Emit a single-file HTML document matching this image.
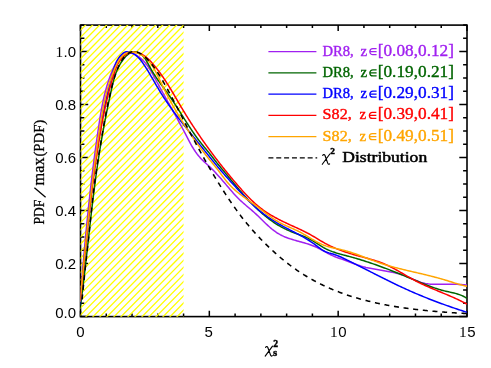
<!DOCTYPE html>
<html><head><meta charset="utf-8"><title>chart</title>
<style>html,body{margin:0;padding:0;background:#fff;}svg{display:block;will-change:transform;}text{font-family:"Liberation Sans",sans-serif;}</style></head>
<body>
<svg width="491" height="368" viewBox="0 0 491 368">
<rect x="0" y="0" width="491" height="368" fill="#fff"/>
<defs><clipPath id="plot"><rect x="80.50" y="24.10" width="386.50" height="293.50"/></clipPath>
<clipPath id="hatch"><rect x="80.60" y="24.95" width="102.97" height="291.80"/></clipPath></defs>
<rect x="80.50" y="25.10" width="386.50" height="291.50" fill="none" stroke="#000" stroke-width="1.6"/>
<path d="M80.50 316.60 v-5.90 M80.50 25.10 v5.90 M106.27 316.60 v-3.00 M106.27 25.10 v3.00 M132.03 316.60 v-3.00 M132.03 25.10 v3.00 M157.80 316.60 v-3.00 M157.80 25.10 v3.00 M183.57 316.60 v-3.00 M183.57 25.10 v3.00 M209.33 316.60 v-5.90 M209.33 25.10 v5.90 M235.10 316.60 v-3.00 M235.10 25.10 v3.00 M260.87 316.60 v-3.00 M260.87 25.10 v3.00 M286.63 316.60 v-3.00 M286.63 25.10 v3.00 M312.40 316.60 v-3.00 M312.40 25.10 v3.00 M338.17 316.60 v-5.90 M338.17 25.10 v5.90 M363.93 316.60 v-3.00 M363.93 25.10 v3.00 M389.70 316.60 v-3.00 M389.70 25.10 v3.00 M415.47 316.60 v-3.00 M415.47 25.10 v3.00 M441.23 316.60 v-3.00 M441.23 25.10 v3.00 M467.00 316.60 v-5.90 M467.00 25.10 v5.90 M80.50 316.60 h7.70 M467.00 316.60 h-7.70 M80.50 303.35 h3.90 M467.00 303.35 h-3.90 M80.50 290.10 h3.90 M467.00 290.10 h-3.90 M80.50 276.85 h3.90 M467.00 276.85 h-3.90 M80.50 263.60 h7.70 M467.00 263.60 h-7.70 M80.50 250.35 h3.90 M467.00 250.35 h-3.90 M80.50 237.10 h3.90 M467.00 237.10 h-3.90 M80.50 223.85 h3.90 M467.00 223.85 h-3.90 M80.50 210.60 h7.70 M467.00 210.60 h-7.70 M80.50 197.35 h3.90 M467.00 197.35 h-3.90 M80.50 184.10 h3.90 M467.00 184.10 h-3.90 M80.50 170.85 h3.90 M467.00 170.85 h-3.90 M80.50 157.60 h7.70 M467.00 157.60 h-7.70 M80.50 144.35 h3.90 M467.00 144.35 h-3.90 M80.50 131.10 h3.90 M467.00 131.10 h-3.90 M80.50 117.85 h3.90 M467.00 117.85 h-3.90 M80.50 104.60 h7.70 M467.00 104.60 h-7.70 M80.50 91.35 h3.90 M467.00 91.35 h-3.90 M80.50 78.10 h3.90 M467.00 78.10 h-3.90 M80.50 64.85 h3.90 M467.00 64.85 h-3.90 M80.50 51.60 h7.70 M467.00 51.60 h-7.70 M80.50 38.35 h3.90 M467.00 38.35 h-3.90 M80.50 25.10 h3.90 M467.00 25.10 h-3.90" stroke="#000" stroke-width="1.5" fill="none"/>
<path clip-path="url(#hatch)" d="M-216.19 317.60 L72.57 24.10 M-209.18 317.60 L79.58 24.10 M-202.18 317.60 L86.58 24.10 M-195.17 317.60 L93.59 24.10 M-188.16 317.60 L100.60 24.10 M-181.16 317.60 L107.60 24.10 M-174.15 317.60 L114.61 24.10 M-167.14 317.60 L121.62 24.10 M-160.13 317.60 L128.63 24.10 M-153.13 317.60 L135.63 24.10 M-146.12 317.60 L142.64 24.10 M-139.11 317.60 L149.65 24.10 M-132.11 317.60 L156.65 24.10 M-125.10 317.60 L163.66 24.10 M-118.09 317.60 L170.67 24.10 M-111.09 317.60 L177.67 24.10 M-104.08 317.60 L184.68 24.10 M-97.07 317.60 L191.69 24.10 M-90.06 317.60 L198.70 24.10 M-83.06 317.60 L205.70 24.10 M-76.05 317.60 L212.71 24.10 M-69.04 317.60 L219.72 24.10 M-62.04 317.60 L226.72 24.10 M-55.03 317.60 L233.73 24.10 M-48.02 317.60 L240.74 24.10 M-41.02 317.60 L247.74 24.10 M-34.01 317.60 L254.75 24.10 M-27.00 317.60 L261.76 24.10 M-19.99 317.60 L268.77 24.10 M-12.99 317.60 L275.77 24.10 M-5.98 317.60 L282.78 24.10 M1.03 317.60 L289.79 24.10 M8.03 317.60 L296.79 24.10 M15.04 317.60 L303.80 24.10 M22.05 317.60 L310.81 24.10 M29.05 317.60 L317.81 24.10 M36.06 317.60 L324.82 24.10 M43.07 317.60 L331.83 24.10 M50.08 317.60 L338.84 24.10 M57.08 317.60 L345.84 24.10 M64.09 317.60 L352.85 24.10 M71.10 317.60 L359.86 24.10 M78.10 317.60 L366.86 24.10 M85.11 317.60 L373.87 24.10 M92.12 317.60 L380.88 24.10 M99.12 317.60 L387.88 24.10 M106.13 317.60 L394.89 24.10 M113.14 317.60 L401.90 24.10 M120.15 317.60 L408.91 24.10 M127.15 317.60 L415.91 24.10 M134.16 317.60 L422.92 24.10 M141.17 317.60 L429.93 24.10 M148.17 317.60 L436.93 24.10 M155.18 317.60 L443.94 24.10 M162.19 317.60 L450.95 24.10 M169.19 317.60 L457.95 24.10 M176.20 317.60 L464.96 24.10 M183.21 317.60 L471.97 24.10" stroke="#ffff00" stroke-width="1.3" fill="none"/>
<g clip-path="url(#plot)" fill="none" stroke-width="1.5" stroke-linejoin="round">
<path d="M80.21 301.93 L80.31 300.54 L80.41 299.16 L80.51 297.77 L80.62 296.39 L80.72 295.01 L80.82 293.62 L80.93 292.23 L81.03 290.85 L81.14 289.46 L81.25 288.07 L81.35 286.69 L81.46 285.30 L81.57 283.91 L81.68 282.52 L81.78 281.13 L81.89 279.75 L82.00 278.36 L82.12 276.97 L82.23 275.58 L82.34 274.19 L82.45 272.80 L82.56 271.41 L82.68 270.01 L82.79 268.62 L82.91 267.23 L83.02 265.84 L83.14 264.45 L83.25 263.06 L83.37 261.66 L83.49 260.27 L83.61 258.88 L83.73 257.48 L83.85 256.09 L83.97 254.70 L84.09 253.31 L84.21 251.91 L84.33 250.52 L84.46 249.12 L84.58 247.73 L84.70 246.34 L84.83 244.94 L84.96 243.55 L85.08 242.15 L85.21 240.76 L85.34 239.36 L85.47 237.97 L85.60 236.57 L85.73 235.18 L85.86 233.78 L85.99 232.39 L86.12 230.99 L86.26 229.60 L86.39 228.21 L86.52 226.81 L86.66 225.42 L86.80 224.02 L86.93 222.63 L87.07 221.23 L87.21 219.84 L87.35 218.44 L87.49 217.05 L87.63 215.65 L87.77 214.26 L87.92 212.86 L88.06 211.47 L88.21 210.07 L88.35 208.68 L88.50 207.29 L88.64 205.89 L88.79 204.50 L88.94 203.10 L89.09 201.71 L89.24 200.32 L89.39 198.93 L89.55 197.53 L89.70 196.14 L89.85 194.75 L90.01 193.35 L90.17 191.96 L90.32 190.57 L90.48 189.18 L90.64 187.79 L90.80 186.40 L90.96 185.00 L91.12 183.61 L91.28 182.22 L91.45 180.83 L91.61 179.44 L91.78 178.05 L91.94 176.66 L92.11 175.28 L92.28 173.89 L92.45 172.50 L92.62 171.11 L92.79 169.72 L92.97 168.33 L93.14 166.95 L93.31 165.56 L93.49 164.17 L93.67 162.79 L93.84 161.40 L94.02 160.02 L94.20 158.63 L94.38 157.25 L94.57 155.87 L94.75 154.48 L94.93 153.10 L95.12 151.72 L95.30 150.33 L95.49 148.95 L95.68 147.57 L95.87 146.19 L96.06 144.81 L96.25 143.43 L96.45 142.05 L96.64 140.67 L96.84 139.30 L97.03 137.92 L97.23 136.54 L97.43 135.17 L97.63 133.79 L97.83 132.41 L98.03 131.04 L98.24 129.67 L98.44 128.29 L98.65 126.92 L98.85 125.55 L99.06 124.17 L99.27 122.80 L99.48 121.43 L99.70 120.06 L99.91 118.69 L100.13 117.33 L100.36 115.96 L100.58 114.59 L100.81 113.22 L101.05 111.86 L101.29 110.49 L101.53 109.13 L101.78 107.76 L102.04 106.40 L102.30 105.04 L102.58 103.68 L102.85 102.31 L103.14 100.95 L103.43 99.59 L103.73 98.23 L104.04 96.87 L104.36 95.52 L104.69 94.16 L105.03 92.80 L105.38 91.45 L105.74 90.09 L106.11 88.73 L106.50 87.38 L106.89 86.03 L107.30 84.67 L107.72 83.32 L108.15 81.97 L108.60 80.62 L109.06 79.27 L109.53 77.92 L110.02 76.57 L110.52 75.22 L111.04 73.87 L111.57 72.53 L112.13 71.18 L112.69 69.84 L113.28 68.49 L113.88 67.15 L114.50 65.80 L115.13 64.46 L115.79 63.13 L116.47 61.83 L117.18 60.56 L117.92 59.34 L118.69 58.18 L119.50 57.08 L120.34 56.08 L121.23 55.16 L122.15 54.36 L123.13 53.67 L124.15 53.11 L125.23 52.69 L126.37 52.43 L127.56 52.33 L128.80 52.40 L130.09 52.62 L131.41 52.98 L132.74 53.46 L134.08 54.05 L135.41 54.73 L136.71 55.49 L137.99 56.32 L139.21 57.20 L140.39 58.11 L141.50 59.06 L142.57 60.04 L143.58 61.05 L144.55 62.09 L145.48 63.15 L146.37 64.25 L147.22 65.36 L148.04 66.49 L148.82 67.65 L149.58 68.81 L150.32 70.00 L151.04 71.20 L151.74 72.40 L152.42 73.62 L153.09 74.84 L153.76 76.07 L154.42 77.31 L155.07 78.54 L155.73 79.77 L156.39 81.00 L157.05 82.23 L157.72 83.46 L158.39 84.69 L159.05 85.91 L159.72 87.14 L160.39 88.36 L161.07 89.59 L161.74 90.81 L162.42 92.03 L163.09 93.25 L163.77 94.48 L164.45 95.70 L165.13 96.92 L165.81 98.13 L166.49 99.35 L167.17 100.57 L167.85 101.79 L168.53 103.01 L169.21 104.23 L169.89 105.45 L170.57 106.67 L171.25 107.89 L171.93 109.11 L172.61 110.33 L173.29 111.55 L173.97 112.77 L174.64 113.99 L175.32 115.21 L176.00 116.44 L176.67 117.66 L177.34 118.89 L178.02 120.11 L178.69 121.34 L179.36 122.57 L180.02 123.80 L180.69 125.03 L181.35 126.26 L182.01 127.49 L182.67 128.73 L183.33 129.97 L183.98 131.21 L184.64 132.45 L185.29 133.69 L185.93 134.93 L186.58 136.18 L187.22 137.42 L187.87 138.67 L188.51 139.91 L189.17 141.15 L189.83 142.39 L190.49 143.62 L191.17 144.84 L191.86 146.05 L192.57 147.25 L193.29 148.44 L194.03 149.62 L194.79 150.78 L195.57 151.93 L196.38 153.06 L197.21 154.17 L198.07 155.26 L198.95 156.33 L199.87 157.38 L200.82 158.40 L201.80 159.41 L202.80 160.40 L203.81 161.38 L204.84 162.34 L205.88 163.31 L206.92 164.26 L207.96 165.22 L209.00 166.18 L210.02 167.15 L211.04 168.12 L212.04 169.10 L213.03 170.09 L214.01 171.09 L214.97 172.10 L215.93 173.11 L216.88 174.14 L217.81 175.16 L218.75 176.20 L219.67 177.24 L220.59 178.28 L221.50 179.33 L222.41 180.39 L223.32 181.45 L224.23 182.51 L225.13 183.57 L226.03 184.64 L226.94 185.71 L227.84 186.78 L228.75 187.85 L229.66 188.91 L230.58 189.98 L231.50 191.04 L232.42 192.09 L233.35 193.14 L234.29 194.18 L235.24 195.21 L236.19 196.23 L237.16 197.24 L238.13 198.23 L239.12 199.21 L240.12 200.18 L241.13 201.13 L242.15 202.06 L243.19 202.98 L244.23 203.90 L245.28 204.80 L246.33 205.70 L247.39 206.59 L248.45 207.49 L249.51 208.38 L250.57 209.28 L251.63 210.18 L252.68 211.09 L253.73 212.01 L254.77 212.95 L255.80 213.89 L256.83 214.85 L257.84 215.82 L258.86 216.80 L259.87 217.78 L260.87 218.77 L261.88 219.76 L262.88 220.75 L263.89 221.73 L264.90 222.71 L265.92 223.68 L266.94 224.64 L267.97 225.60 L269.00 226.53 L270.05 227.45 L271.11 228.35 L272.18 229.24 L273.26 230.09 L274.36 230.93 L275.47 231.73 L276.61 232.51 L277.76 233.25 L278.94 233.96 L280.13 234.63 L281.35 235.27 L282.59 235.87 L283.85 236.44 L285.13 236.98 L286.42 237.49 L287.73 237.98 L289.05 238.44 L290.39 238.89 L291.73 239.32 L293.09 239.73 L294.45 240.13 L295.81 240.53 L297.18 240.91 L298.56 241.29 L299.93 241.67 L301.31 242.05 L302.68 242.44 L304.05 242.83 L305.41 243.23 L306.77 243.64 L308.12 244.06 L309.46 244.51 L310.78 244.96 L312.10 245.45 L313.40 245.95 L314.69 246.48 L315.95 247.04 L317.21 247.63 L318.45 248.24 L319.67 248.86 L320.89 249.51 L322.10 250.16 L323.31 250.82 L324.52 251.49 L325.73 252.16 L326.93 252.82 L328.15 253.47 L329.37 254.11 L330.60 254.73 L331.85 255.34 L333.11 255.92 L334.38 256.48 L335.68 257.00 L336.99 257.49 L338.31 257.97 L339.65 258.43 L340.99 258.87 L342.33 259.32 L343.66 259.77 L344.99 260.24 L346.31 260.71 L347.63 261.20 L348.93 261.70 L350.23 262.21 L351.52 262.71 L352.82 263.22 L354.11 263.72 L355.41 264.21 L356.71 264.68 L358.01 265.14 L359.32 265.58 L360.64 266.00 L361.97 266.39 L363.31 266.76 L364.66 267.10 L366.01 267.43 L367.37 267.73 L368.74 268.02 L370.11 268.30 L371.49 268.57 L372.86 268.82 L374.25 269.06 L375.63 269.30 L377.01 269.53 L378.40 269.76 L379.78 269.99 L381.17 270.21 L382.55 270.44 L383.93 270.67 L385.31 270.91 L386.68 271.15 L388.06 271.40 L389.43 271.66 L390.79 271.93 L392.16 272.21 L393.52 272.51 L394.88 272.82 L396.23 273.15 L397.58 273.49 L398.92 273.86 L400.26 274.25 L401.59 274.66 L402.92 275.09 L404.24 275.55 L405.56 276.04 L406.87 276.56 L408.18 277.09 L409.48 277.64 L410.78 278.20 L412.08 278.76 L413.38 279.32 L414.68 279.88 L415.98 280.42 L417.29 280.94 L418.59 281.44 L419.91 281.91 L421.23 282.35 L422.55 282.75 L423.89 283.10 L425.23 283.41 L426.58 283.66 L427.94 283.86 L429.31 284.01 L430.69 284.13 L432.07 284.21 L433.45 284.26 L434.85 284.28 L436.24 284.29 L437.64 284.27 L439.04 284.25 L440.45 284.23 L441.85 284.20 L443.25 284.17 L444.65 284.16 L446.05 284.14 L447.45 284.14 L448.85 284.14 L450.25 284.15 L451.65 284.16 L453.05 284.19 L454.44 284.22 L455.84 284.27 L457.24 284.32 L458.63 284.39 L460.03 284.47 L461.42 284.56 L462.82 284.66 L464.21 284.78 L465.60 284.91 L467.00 285.06" stroke="#a020f0"/>
<path d="M80.14 307.96 L80.33 306.57 L80.52 305.19 L80.71 303.80 L80.90 302.41 L81.09 301.03 L81.27 299.64 L81.46 298.25 L81.64 296.87 L81.82 295.48 L82.00 294.09 L82.18 292.70 L82.35 291.31 L82.53 289.92 L82.71 288.54 L82.88 287.15 L83.05 285.76 L83.22 284.37 L83.39 282.98 L83.56 281.59 L83.73 280.20 L83.90 278.81 L84.06 277.42 L84.23 276.03 L84.39 274.64 L84.56 273.25 L84.72 271.85 L84.88 270.46 L85.04 269.07 L85.20 267.68 L85.36 266.29 L85.52 264.90 L85.68 263.51 L85.84 262.11 L86.00 260.72 L86.16 259.33 L86.31 257.94 L86.47 256.55 L86.63 255.15 L86.78 253.76 L86.94 252.37 L87.09 250.98 L87.25 249.58 L87.40 248.19 L87.56 246.80 L87.71 245.41 L87.86 244.01 L88.02 242.62 L88.17 241.23 L88.33 239.84 L88.48 238.44 L88.63 237.05 L88.79 235.66 L88.94 234.26 L89.10 232.87 L89.25 231.48 L89.41 230.09 L89.56 228.69 L89.72 227.30 L89.87 225.91 L90.03 224.52 L90.19 223.12 L90.34 221.73 L90.50 220.34 L90.66 218.95 L90.82 217.55 L90.97 216.16 L91.13 214.77 L91.29 213.38 L91.45 211.98 L91.62 210.59 L91.78 209.20 L91.94 207.81 L92.10 206.42 L92.27 205.03 L92.43 203.63 L92.60 202.24 L92.77 200.85 L92.93 199.46 L93.10 198.07 L93.27 196.68 L93.44 195.29 L93.62 193.90 L93.79 192.51 L93.96 191.12 L94.14 189.73 L94.32 188.34 L94.49 186.95 L94.67 185.56 L94.85 184.17 L95.04 182.78 L95.22 181.39 L95.40 180.00 L95.59 178.62 L95.78 177.23 L95.97 175.84 L96.16 174.45 L96.35 173.06 L96.54 171.68 L96.74 170.29 L96.94 168.90 L97.14 167.52 L97.34 166.13 L97.54 164.74 L97.74 163.36 L97.95 161.97 L98.16 160.59 L98.37 159.20 L98.58 157.82 L98.79 156.43 L99.01 155.05 L99.23 153.67 L99.45 152.28 L99.67 150.90 L99.89 149.52 L100.12 148.13 L100.34 146.75 L100.57 145.37 L100.80 143.99 L101.04 142.61 L101.27 141.23 L101.51 139.84 L101.75 138.46 L101.99 137.08 L102.23 135.70 L102.47 134.33 L102.72 132.95 L102.97 131.57 L103.22 130.19 L103.47 128.81 L103.72 127.43 L103.98 126.06 L104.23 124.68 L104.49 123.30 L104.75 121.93 L105.02 120.55 L105.28 119.17 L105.55 117.80 L105.81 116.42 L106.08 115.05 L106.35 113.67 L106.63 112.30 L106.90 110.93 L107.18 109.55 L107.46 108.18 L107.74 106.81 L108.02 105.43 L108.31 104.06 L108.59 102.69 L108.88 101.32 L109.17 99.95 L109.46 98.58 L109.75 97.21 L110.05 95.84 L110.34 94.47 L110.64 93.10 L110.94 91.73 L111.24 90.36 L111.55 89.00 L111.86 87.63 L112.17 86.26 L112.49 84.90 L112.82 83.54 L113.16 82.18 L113.51 80.83 L113.88 79.48 L114.26 78.14 L114.67 76.80 L115.10 75.47 L115.55 74.15 L116.02 72.83 L116.53 71.53 L117.06 70.23 L117.63 68.94 L118.23 67.67 L118.86 66.40 L119.54 65.15 L120.25 63.91 L121.00 62.68 L121.80 61.47 L122.65 60.27 L123.54 59.08 L124.48 57.93 L125.46 56.83 L126.48 55.79 L127.54 54.84 L128.63 53.99 L129.76 53.26 L130.92 52.67 L132.10 52.22 L133.31 51.95 L134.55 51.87 L135.80 51.98 L137.05 52.27 L138.29 52.72 L139.50 53.32 L140.68 54.05 L141.80 54.91 L142.86 55.88 L143.84 56.94 L144.74 58.09 L145.56 59.29 L146.32 60.55 L147.04 61.83 L147.73 63.13 L148.40 64.43 L149.08 65.71 L149.76 66.97 L150.45 68.21 L151.14 69.43 L151.85 70.63 L152.56 71.82 L153.28 72.99 L154.01 74.15 L154.76 75.30 L155.51 76.45 L156.27 77.58 L157.05 78.72 L157.83 79.85 L158.63 80.97 L159.44 82.10 L160.26 83.23 L161.08 84.35 L161.91 85.48 L162.74 86.61 L163.57 87.73 L164.40 88.87 L165.23 90.00 L166.06 91.14 L166.89 92.28 L167.70 93.42 L168.51 94.57 L169.32 95.72 L170.11 96.88 L170.91 98.04 L171.69 99.21 L172.47 100.37 L173.25 101.55 L174.02 102.72 L174.79 103.90 L175.55 105.07 L176.31 106.25 L177.07 107.44 L177.83 108.62 L178.58 109.80 L179.33 110.99 L180.08 112.17 L180.83 113.36 L181.58 114.54 L182.33 115.73 L183.08 116.91 L183.83 118.10 L184.58 119.28 L185.33 120.46 L186.08 121.64 L186.84 122.82 L187.60 124.00 L188.36 125.17 L189.13 126.34 L189.89 127.51 L190.67 128.68 L191.45 129.84 L192.23 131.00 L193.01 132.15 L193.81 133.30 L194.61 134.45 L195.41 135.59 L196.23 136.72 L197.05 137.85 L197.87 138.98 L198.71 140.10 L199.55 141.21 L200.41 142.31 L201.27 143.41 L202.14 144.51 L203.02 145.59 L203.91 146.67 L204.80 147.74 L205.70 148.81 L206.60 149.88 L207.50 150.95 L208.39 152.02 L209.27 153.10 L210.14 154.18 L211.00 155.26 L211.85 156.36 L212.68 157.46 L213.51 158.55 L214.34 159.64 L215.19 160.73 L216.03 161.80 L216.89 162.87 L217.76 163.93 L218.62 164.99 L219.50 166.04 L220.38 167.09 L221.26 168.15 L222.14 169.20 L223.02 170.26 L223.91 171.32 L224.79 172.39 L225.68 173.45 L226.56 174.52 L227.45 175.60 L228.34 176.68 L229.23 177.75 L230.12 178.83 L231.01 179.91 L231.90 181.00 L232.80 182.08 L233.70 183.16 L234.60 184.24 L235.50 185.32 L236.41 186.40 L237.32 187.48 L238.23 188.56 L239.15 189.63 L240.07 190.71 L240.99 191.78 L241.92 192.84 L242.85 193.90 L243.78 194.96 L244.72 196.02 L245.67 197.07 L246.62 198.11 L247.57 199.15 L248.53 200.18 L249.50 201.21 L250.47 202.23 L251.45 203.24 L252.43 204.25 L253.42 205.25 L254.42 206.24 L255.42 207.22 L256.43 208.19 L257.44 209.16 L258.47 210.11 L259.50 211.05 L260.53 211.99 L261.58 212.91 L262.63 213.83 L263.70 214.73 L264.77 215.62 L265.84 216.49 L266.93 217.36 L268.03 218.21 L269.13 219.05 L270.25 219.87 L271.37 220.69 L272.50 221.48 L273.65 222.26 L274.80 223.03 L275.96 223.78 L277.13 224.52 L278.32 225.24 L279.51 225.94 L280.72 226.63 L281.93 227.30 L283.16 227.95 L284.40 228.58 L285.65 229.20 L286.91 229.80 L288.19 230.37 L289.48 230.93 L290.77 231.47 L292.08 231.99 L293.40 232.50 L294.73 232.99 L296.06 233.48 L297.39 233.97 L298.73 234.46 L300.06 234.95 L301.39 235.45 L302.71 235.96 L304.03 236.49 L305.34 237.03 L306.63 237.60 L307.91 238.19 L309.18 238.81 L310.43 239.47 L311.66 240.15 L312.87 240.87 L314.07 241.60 L315.27 242.35 L316.45 243.12 L317.63 243.88 L318.81 244.65 L319.99 245.41 L321.18 246.15 L322.37 246.88 L323.57 247.59 L324.79 248.26 L326.02 248.90 L327.26 249.50 L328.52 250.07 L329.79 250.62 L331.07 251.13 L332.37 251.62 L333.68 252.08 L334.99 252.52 L336.31 252.95 L337.64 253.35 L338.98 253.75 L340.32 254.13 L341.67 254.50 L343.02 254.86 L344.38 255.22 L345.73 255.57 L347.09 255.93 L348.45 256.29 L349.80 256.65 L351.15 257.01 L352.50 257.38 L353.85 257.76 L355.20 258.15 L356.55 258.54 L357.89 258.94 L359.23 259.34 L360.57 259.75 L361.90 260.16 L363.24 260.58 L364.57 261.00 L365.90 261.43 L367.23 261.87 L368.56 262.31 L369.89 262.75 L371.21 263.20 L372.54 263.66 L373.86 264.11 L375.18 264.58 L376.50 265.04 L377.81 265.51 L379.13 265.99 L380.44 266.47 L381.76 266.95 L383.07 267.44 L384.38 267.93 L385.69 268.42 L387.00 268.92 L388.30 269.42 L389.61 269.92 L390.91 270.43 L392.22 270.94 L393.52 271.45 L394.82 271.96 L396.12 272.48 L397.42 273.00 L398.72 273.52 L400.02 274.05 L401.31 274.57 L402.61 275.10 L403.91 275.63 L405.20 276.16 L406.50 276.69 L407.79 277.23 L409.08 277.76 L410.37 278.30 L411.67 278.84 L412.96 279.38 L414.25 279.92 L415.54 280.46 L416.83 281.00 L418.12 281.54 L419.41 282.08 L420.70 282.61 L422.00 283.15 L423.29 283.68 L424.58 284.20 L425.88 284.72 L427.18 285.23 L428.48 285.73 L429.79 286.23 L431.10 286.71 L432.41 287.19 L433.73 287.66 L435.05 288.11 L436.37 288.55 L437.70 288.97 L439.04 289.39 L440.38 289.78 L441.72 290.16 L443.07 290.52 L444.43 290.87 L445.80 291.20 L447.17 291.51 L448.54 291.81 L449.92 292.11 L451.29 292.41 L452.66 292.72 L454.03 293.04 L455.39 293.39 L456.74 293.76 L458.08 294.17 L459.40 294.61 L460.71 295.10 L462.00 295.64 L463.28 296.24 L464.53 296.90 L465.76 297.63 L466.96 298.43" stroke="#006400"/>
<path d="M80.18 304.46 L80.30 303.06 L80.42 301.66 L80.54 300.27 L80.66 298.87 L80.78 297.47 L80.90 296.07 L81.02 294.67 L81.14 293.27 L81.26 291.87 L81.38 290.47 L81.50 289.07 L81.62 287.67 L81.74 286.27 L81.87 284.87 L81.99 283.47 L82.11 282.07 L82.24 280.67 L82.36 279.27 L82.48 277.87 L82.61 276.47 L82.73 275.07 L82.86 273.67 L82.98 272.27 L83.11 270.87 L83.24 269.47 L83.36 268.07 L83.49 266.66 L83.62 265.26 L83.75 263.86 L83.88 262.46 L84.01 261.06 L84.14 259.66 L84.27 258.26 L84.40 256.85 L84.53 255.45 L84.66 254.05 L84.80 252.65 L84.93 251.25 L85.06 249.85 L85.20 248.44 L85.33 247.04 L85.47 245.64 L85.61 244.24 L85.75 242.84 L85.88 241.44 L86.02 240.04 L86.16 238.63 L86.30 237.23 L86.45 235.83 L86.59 234.43 L86.73 233.03 L86.87 231.63 L87.02 230.23 L87.16 228.82 L87.31 227.42 L87.46 226.02 L87.61 224.62 L87.75 223.22 L87.90 221.82 L88.05 220.42 L88.21 219.02 L88.36 217.62 L88.51 216.22 L88.67 214.82 L88.82 213.42 L88.98 212.02 L89.13 210.62 L89.29 209.22 L89.45 207.82 L89.61 206.42 L89.77 205.02 L89.93 203.62 L90.10 202.22 L90.26 200.82 L90.42 199.42 L90.59 198.03 L90.76 196.63 L90.93 195.23 L91.10 193.83 L91.27 192.43 L91.44 191.04 L91.61 189.64 L91.79 188.24 L91.96 186.84 L92.14 185.45 L92.31 184.05 L92.49 182.66 L92.67 181.26 L92.85 179.86 L93.04 178.47 L93.22 177.07 L93.40 175.68 L93.59 174.28 L93.78 172.89 L93.97 171.49 L94.16 170.10 L94.35 168.71 L94.54 167.31 L94.74 165.92 L94.93 164.53 L95.13 163.13 L95.33 161.74 L95.53 160.35 L95.73 158.96 L95.93 157.57 L96.13 156.17 L96.34 154.78 L96.54 153.39 L96.75 152.00 L96.96 150.61 L97.17 149.22 L97.39 147.84 L97.60 146.45 L97.82 145.06 L98.03 143.67 L98.25 142.28 L98.47 140.89 L98.69 139.51 L98.92 138.12 L99.14 136.74 L99.37 135.35 L99.60 133.96 L99.83 132.58 L100.07 131.19 L100.30 129.81 L100.54 128.42 L100.78 127.04 L101.02 125.66 L101.27 124.27 L101.51 122.89 L101.76 121.51 L102.02 120.13 L102.27 118.74 L102.53 117.36 L102.79 115.98 L103.05 114.60 L103.32 113.22 L103.58 111.84 L103.86 110.46 L104.13 109.08 L104.41 107.70 L104.69 106.32 L104.97 104.94 L105.26 103.56 L105.55 102.18 L105.84 100.81 L106.14 99.43 L106.44 98.05 L106.74 96.67 L107.05 95.30 L107.36 93.92 L107.68 92.54 L108.00 91.17 L108.32 89.79 L108.65 88.41 L108.98 87.04 L109.31 85.66 L109.65 84.29 L109.99 82.91 L110.34 81.54 L110.69 80.17 L111.04 78.79 L111.40 77.42 L111.77 76.04 L112.14 74.67 L112.51 73.30 L112.89 71.93 L113.29 70.57 L113.70 69.21 L114.14 67.87 L114.60 66.54 L115.09 65.23 L115.62 63.94 L116.18 62.68 L116.79 61.43 L117.44 60.22 L118.14 59.04 L118.89 57.89 L119.71 56.77 L120.58 55.70 L121.52 54.67 L122.54 53.69 L123.63 52.83 L124.83 52.18 L126.13 51.82 L127.54 51.80 L129.01 52.04 L130.47 52.48 L131.88 53.04 L133.20 53.69 L134.44 54.42 L135.62 55.21 L136.72 56.07 L137.77 56.99 L138.76 57.97 L139.70 58.98 L140.60 60.04 L141.46 61.13 L142.30 62.25 L143.10 63.40 L143.89 64.55 L144.67 65.72 L145.43 66.90 L146.19 68.08 L146.94 69.27 L147.68 70.47 L148.41 71.67 L149.13 72.87 L149.85 74.08 L150.57 75.29 L151.28 76.51 L151.99 77.73 L152.69 78.95 L153.40 80.17 L154.10 81.39 L154.80 82.61 L155.50 83.84 L156.21 85.06 L156.92 86.28 L157.63 87.49 L158.34 88.71 L159.06 89.92 L159.79 91.13 L160.52 92.33 L161.26 93.53 L162.00 94.72 L162.75 95.91 L163.51 97.09 L164.28 98.27 L165.06 99.44 L165.84 100.61 L166.62 101.78 L167.42 102.94 L168.21 104.09 L169.02 105.24 L169.83 106.39 L170.65 107.54 L171.47 108.68 L172.29 109.81 L173.12 110.95 L173.96 112.08 L174.80 113.20 L175.64 114.33 L176.49 115.45 L177.34 116.57 L178.20 117.68 L179.05 118.80 L179.92 119.91 L180.78 121.02 L181.65 122.12 L182.52 123.23 L183.39 124.33 L184.27 125.43 L185.15 126.53 L186.03 127.63 L186.91 128.73 L187.79 129.83 L188.67 130.92 L189.56 132.02 L190.44 133.11 L191.33 134.20 L192.22 135.29 L193.10 136.39 L193.99 137.48 L194.88 138.57 L195.76 139.66 L196.65 140.75 L197.54 141.85 L198.42 142.94 L199.31 144.03 L200.19 145.13 L201.07 146.22 L201.95 147.32 L202.83 148.41 L203.71 149.51 L204.59 150.60 L205.47 151.70 L206.34 152.79 L207.22 153.89 L208.10 154.98 L208.98 156.08 L209.86 157.17 L210.74 158.26 L211.62 159.35 L212.51 160.44 L213.39 161.53 L214.28 162.61 L215.17 163.70 L216.06 164.78 L216.95 165.86 L217.85 166.93 L218.75 168.01 L219.65 169.08 L220.56 170.14 L221.47 171.21 L222.39 172.27 L223.30 173.33 L224.22 174.38 L225.15 175.43 L226.07 176.48 L227.00 177.53 L227.94 178.58 L228.87 179.62 L229.81 180.66 L230.75 181.70 L231.69 182.73 L232.64 183.77 L233.59 184.80 L234.53 185.83 L235.49 186.86 L236.44 187.89 L237.39 188.92 L238.35 189.95 L239.31 190.97 L240.27 192.00 L241.23 193.02 L242.19 194.05 L243.16 195.07 L244.13 196.09 L245.10 197.10 L246.07 198.11 L247.06 199.11 L248.04 200.11 L249.03 201.11 L250.03 202.09 L251.04 203.07 L252.05 204.04 L253.07 205.01 L254.10 205.96 L255.13 206.90 L256.18 207.84 L257.23 208.76 L258.30 209.67 L259.38 210.57 L260.46 211.45 L261.56 212.32 L262.67 213.19 L263.78 214.03 L264.91 214.87 L266.04 215.70 L267.19 216.51 L268.34 217.32 L269.50 218.11 L270.67 218.89 L271.84 219.66 L273.02 220.42 L274.21 221.17 L275.41 221.90 L276.61 222.63 L277.82 223.35 L279.04 224.05 L280.26 224.75 L281.49 225.44 L282.72 226.12 L283.96 226.79 L285.20 227.45 L286.44 228.11 L287.68 228.76 L288.93 229.41 L290.18 230.06 L291.43 230.71 L292.68 231.35 L293.93 232.00 L295.18 232.65 L296.42 233.30 L297.67 233.96 L298.91 234.62 L300.14 235.29 L301.38 235.97 L302.60 236.65 L303.83 237.35 L305.04 238.05 L306.25 238.77 L307.46 239.50 L308.65 240.24 L309.84 241.00 L311.02 241.78 L312.19 242.57 L313.35 243.38 L314.49 244.21 L315.63 245.06 L316.76 245.92 L317.89 246.79 L319.02 247.65 L320.16 248.49 L321.31 249.29 L322.49 250.05 L323.70 250.76 L324.95 251.39 L326.23 251.95 L327.54 252.44 L328.88 252.89 L330.24 253.30 L331.61 253.70 L332.97 254.09 L334.33 254.50 L335.68 254.94 L337.00 255.42 L338.31 255.94 L339.61 256.48 L340.89 257.05 L342.16 257.64 L343.43 258.24 L344.69 258.85 L345.96 259.46 L347.22 260.08 L348.48 260.70 L349.74 261.32 L350.99 261.94 L352.25 262.56 L353.51 263.19 L354.76 263.82 L356.02 264.45 L357.28 265.08 L358.53 265.71 L359.78 266.34 L361.04 266.97 L362.29 267.61 L363.55 268.25 L364.80 268.88 L366.05 269.52 L367.30 270.16 L368.56 270.79 L369.81 271.43 L371.06 272.07 L372.32 272.70 L373.57 273.34 L374.83 273.98 L376.08 274.61 L377.34 275.25 L378.59 275.88 L379.85 276.52 L381.10 277.15 L382.36 277.78 L383.62 278.41 L384.88 279.04 L386.14 279.66 L387.40 280.29 L388.66 280.91 L389.93 281.53 L391.19 282.15 L392.45 282.77 L393.72 283.38 L394.99 283.99 L396.26 284.60 L397.53 285.20 L398.80 285.81 L400.07 286.41 L401.35 287.00 L402.63 287.59 L403.90 288.18 L405.18 288.77 L406.47 289.35 L407.75 289.93 L409.04 290.50 L410.32 291.07 L411.61 291.64 L412.90 292.20 L414.20 292.76 L415.49 293.32 L416.79 293.87 L418.08 294.42 L419.38 294.97 L420.68 295.51 L421.98 296.04 L423.29 296.58 L424.59 297.11 L425.90 297.64 L427.21 298.16 L428.51 298.68 L429.82 299.20 L431.14 299.71 L432.45 300.22 L433.76 300.73 L435.08 301.23 L436.39 301.73 L437.71 302.22 L439.03 302.72 L440.35 303.20 L441.67 303.69 L442.99 304.17 L444.31 304.65 L445.64 305.13 L446.96 305.60 L448.29 306.07 L449.61 306.53 L450.94 307.00 L452.27 307.46 L453.60 307.91 L454.93 308.36 L456.26 308.81 L457.59 309.26 L458.92 309.70 L460.25 310.14 L461.58 310.58 L462.92 311.01 L464.25 311.44 L465.59 311.87 L466.92 312.30" stroke="#0000ff"/>
<path d="M80.22 300.94 L80.36 299.56 L80.50 298.18 L80.64 296.81 L80.78 295.43 L80.92 294.05 L81.06 292.67 L81.20 291.30 L81.34 289.92 L81.48 288.54 L81.62 287.16 L81.76 285.78 L81.89 284.40 L82.03 283.02 L82.17 281.64 L82.31 280.25 L82.45 278.87 L82.59 277.49 L82.72 276.11 L82.86 274.73 L83.00 273.34 L83.14 271.96 L83.28 270.58 L83.42 269.19 L83.56 267.81 L83.69 266.43 L83.83 265.04 L83.97 263.66 L84.11 262.27 L84.25 260.89 L84.39 259.50 L84.53 258.12 L84.67 256.73 L84.81 255.35 L84.95 253.96 L85.09 252.58 L85.24 251.19 L85.38 249.80 L85.52 248.42 L85.66 247.03 L85.80 245.65 L85.95 244.26 L86.09 242.87 L86.23 241.49 L86.38 240.10 L86.52 238.71 L86.67 237.33 L86.82 235.94 L86.96 234.55 L87.11 233.17 L87.26 231.78 L87.40 230.39 L87.55 229.01 L87.70 227.62 L87.85 226.23 L88.00 224.85 L88.15 223.46 L88.30 222.07 L88.46 220.69 L88.61 219.30 L88.76 217.91 L88.92 216.53 L89.07 215.14 L89.23 213.76 L89.38 212.37 L89.54 210.99 L89.70 209.60 L89.86 208.21 L90.02 206.83 L90.18 205.44 L90.34 204.06 L90.50 202.67 L90.67 201.29 L90.83 199.91 L91.00 198.52 L91.16 197.14 L91.33 195.75 L91.50 194.37 L91.67 192.99 L91.84 191.60 L92.01 190.22 L92.18 188.84 L92.36 187.46 L92.53 186.08 L92.71 184.69 L92.88 183.31 L93.06 181.93 L93.24 180.55 L93.42 179.17 L93.60 177.79 L93.78 176.41 L93.97 175.03 L94.15 173.65 L94.34 172.28 L94.53 170.90 L94.72 169.52 L94.91 168.14 L95.10 166.77 L95.29 165.39 L95.48 164.02 L95.68 162.64 L95.88 161.26 L96.07 159.89 L96.27 158.52 L96.48 157.14 L96.68 155.77 L96.88 154.40 L97.09 153.02 L97.30 151.65 L97.50 150.28 L97.71 148.91 L97.93 147.54 L98.14 146.17 L98.35 144.80 L98.57 143.44 L98.79 142.07 L99.01 140.70 L99.23 139.33 L99.46 137.97 L99.68 136.60 L99.91 135.24 L100.14 133.87 L100.37 132.51 L100.61 131.14 L100.85 129.78 L101.09 128.42 L101.33 127.06 L101.58 125.69 L101.82 124.33 L102.08 122.97 L102.33 121.61 L102.59 120.25 L102.85 118.89 L103.12 117.53 L103.39 116.17 L103.66 114.81 L103.93 113.45 L104.21 112.09 L104.50 110.73 L104.78 109.37 L105.07 108.01 L105.37 106.65 L105.67 105.29 L105.97 103.93 L106.28 102.58 L106.60 101.22 L106.91 99.86 L107.24 98.50 L107.56 97.14 L107.89 95.79 L108.23 94.43 L108.57 93.07 L108.92 91.71 L109.27 90.35 L109.63 88.99 L109.99 87.64 L110.36 86.28 L110.74 84.92 L111.12 83.56 L111.50 82.20 L111.89 80.84 L112.29 79.49 L112.70 78.13 L113.11 76.77 L113.52 75.41 L113.95 74.05 L114.38 72.69 L114.82 71.34 L115.29 70.00 L115.77 68.66 L116.29 67.35 L116.83 66.05 L117.42 64.78 L118.04 63.53 L118.71 62.31 L119.43 61.13 L120.20 59.98 L121.03 58.87 L121.92 57.82 L122.87 56.83 L123.87 55.91 L124.93 55.08 L126.05 54.35 L127.22 53.72 L128.43 53.21 L129.69 52.82 L130.97 52.53 L132.28 52.35 L133.60 52.28 L134.92 52.31 L136.23 52.45 L137.53 52.69 L138.81 53.03 L140.05 53.47 L141.26 54.01 L142.45 54.62 L143.61 55.32 L144.74 56.08 L145.85 56.92 L146.94 57.81 L148.00 58.75 L149.04 59.74 L150.05 60.76 L151.05 61.82 L152.03 62.90 L152.99 64.00 L153.93 65.11 L154.86 66.23 L155.77 67.36 L156.67 68.48 L157.55 69.62 L158.42 70.76 L159.27 71.90 L160.11 73.05 L160.94 74.20 L161.76 75.35 L162.56 76.51 L163.36 77.67 L164.14 78.84 L164.92 80.00 L165.69 81.18 L166.44 82.35 L167.19 83.53 L167.93 84.70 L168.67 85.88 L169.40 87.07 L170.12 88.25 L170.84 89.44 L171.55 90.62 L172.26 91.81 L172.97 93.00 L173.67 94.19 L174.37 95.38 L175.06 96.57 L175.76 97.77 L176.46 98.96 L177.15 100.15 L177.84 101.34 L178.54 102.53 L179.24 103.72 L179.93 104.91 L180.63 106.10 L181.34 107.28 L182.04 108.47 L182.75 109.65 L183.47 110.83 L184.18 112.01 L184.90 113.19 L185.63 114.37 L186.35 115.54 L187.09 116.72 L187.82 117.89 L188.56 119.06 L189.30 120.23 L190.04 121.40 L190.79 122.56 L191.54 123.73 L192.29 124.89 L193.05 126.05 L193.81 127.21 L194.57 128.37 L195.34 129.52 L196.11 130.68 L196.88 131.83 L197.65 132.98 L198.43 134.13 L199.22 135.28 L200.00 136.42 L200.79 137.57 L201.58 138.71 L202.37 139.85 L203.17 140.99 L203.97 142.12 L204.78 143.26 L205.58 144.39 L206.39 145.52 L207.20 146.65 L208.02 147.78 L208.84 148.90 L209.66 150.03 L210.48 151.15 L211.31 152.27 L212.14 153.39 L212.97 154.50 L213.81 155.62 L214.65 156.73 L215.49 157.84 L216.34 158.95 L217.18 160.05 L218.03 161.16 L218.89 162.26 L219.74 163.36 L220.60 164.46 L221.46 165.55 L222.32 166.65 L223.19 167.74 L224.06 168.83 L224.93 169.92 L225.81 171.00 L226.68 172.08 L227.56 173.17 L228.45 174.25 L229.33 175.32 L230.22 176.40 L231.11 177.47 L232.00 178.54 L232.90 179.61 L233.80 180.68 L234.70 181.74 L235.60 182.80 L236.51 183.86 L237.41 184.92 L238.32 185.98 L239.24 187.03 L240.16 188.08 L241.08 189.12 L242.00 190.16 L242.93 191.20 L243.87 192.23 L244.81 193.25 L245.75 194.27 L246.70 195.28 L247.66 196.28 L248.63 197.27 L249.60 198.26 L250.59 199.24 L251.58 200.20 L252.58 201.16 L253.58 202.10 L254.60 203.03 L255.63 203.95 L256.67 204.86 L257.72 205.75 L258.78 206.63 L259.86 207.50 L260.94 208.35 L262.04 209.18 L263.16 210.00 L264.28 210.80 L265.42 211.59 L266.57 212.36 L267.73 213.11 L268.91 213.85 L270.09 214.58 L271.29 215.30 L272.49 216.00 L273.70 216.69 L274.93 217.36 L276.15 218.03 L277.39 218.69 L278.63 219.33 L279.88 219.97 L281.13 220.60 L282.39 221.22 L283.65 221.83 L284.91 222.44 L286.17 223.04 L287.44 223.63 L288.71 224.22 L289.98 224.81 L291.25 225.39 L292.51 225.96 L293.78 226.54 L295.05 227.12 L296.31 227.69 L297.57 228.27 L298.83 228.86 L300.09 229.44 L301.34 230.03 L302.59 230.63 L303.83 231.24 L305.07 231.86 L306.30 232.48 L307.53 233.12 L308.75 233.77 L309.97 234.44 L311.18 235.11 L312.38 235.81 L313.58 236.51 L314.77 237.22 L315.96 237.93 L317.15 238.65 L318.34 239.37 L319.53 240.09 L320.72 240.80 L321.92 241.50 L323.12 242.20 L324.33 242.88 L325.55 243.55 L326.77 244.20 L328.00 244.84 L329.24 245.46 L330.49 246.06 L331.75 246.65 L333.01 247.23 L334.28 247.78 L335.55 248.33 L336.83 248.86 L338.12 249.38 L339.41 249.89 L340.71 250.38 L342.02 250.86 L343.33 251.33 L344.64 251.78 L345.96 252.23 L347.28 252.66 L348.61 253.08 L349.94 253.49 L351.28 253.90 L352.62 254.29 L353.96 254.67 L355.31 255.05 L356.66 255.42 L358.00 255.79 L359.35 256.16 L360.70 256.52 L362.05 256.88 L363.40 257.24 L364.75 257.61 L366.10 257.97 L367.44 258.34 L368.79 258.72 L370.13 259.10 L371.46 259.49 L372.80 259.89 L374.13 260.29 L375.45 260.71 L376.77 261.14 L378.08 261.58 L379.39 262.04 L380.69 262.51 L381.99 263.00 L383.27 263.51 L384.55 264.04 L385.82 264.58 L387.08 265.15 L388.33 265.74 L389.58 266.34 L390.82 266.96 L392.05 267.59 L393.28 268.23 L394.50 268.89 L395.72 269.56 L396.94 270.24 L398.15 270.92 L399.36 271.61 L400.56 272.31 L401.77 273.01 L402.98 273.71 L404.18 274.42 L405.39 275.12 L406.59 275.83 L407.80 276.53 L409.01 277.22 L410.22 277.91 L411.44 278.60 L412.66 279.27 L413.88 279.94 L415.11 280.60 L416.34 281.24 L417.58 281.87 L418.83 282.49 L420.07 283.11 L421.33 283.71 L422.58 284.30 L423.85 284.88 L425.11 285.46 L426.38 286.03 L427.65 286.59 L428.92 287.15 L430.20 287.70 L431.48 288.25 L432.76 288.79 L434.04 289.33 L435.32 289.87 L436.61 290.41 L437.89 290.94 L439.18 291.47 L440.46 292.00 L441.75 292.54 L443.03 293.07 L444.32 293.60 L445.60 294.14 L446.88 294.68 L448.17 295.22 L449.45 295.77 L450.72 296.32 L452.00 296.87 L453.27 297.43 L454.54 298.00 L455.81 298.58 L457.07 299.16 L458.33 299.75 L459.59 300.35 L460.84 300.96 L462.09 301.58 L463.33 302.21 L464.56 302.85 L465.80 303.50 L467.02 304.16" stroke="#ff0000"/>
<path d="M80.13 301.95 L80.26 300.57 L80.38 299.20 L80.51 297.82 L80.64 296.44 L80.77 295.07 L80.89 293.69 L81.02 292.31 L81.15 290.94 L81.28 289.56 L81.40 288.18 L81.53 286.80 L81.66 285.42 L81.79 284.05 L81.92 282.67 L82.05 281.29 L82.18 279.91 L82.31 278.53 L82.43 277.15 L82.56 275.77 L82.69 274.39 L82.82 273.01 L82.95 271.63 L83.09 270.25 L83.22 268.88 L83.35 267.50 L83.48 266.12 L83.61 264.73 L83.74 263.35 L83.88 261.97 L84.01 260.59 L84.14 259.21 L84.27 257.83 L84.41 256.45 L84.54 255.07 L84.68 253.69 L84.81 252.31 L84.95 250.93 L85.08 249.55 L85.22 248.17 L85.35 246.79 L85.49 245.40 L85.63 244.02 L85.77 242.64 L85.91 241.26 L86.04 239.88 L86.18 238.50 L86.32 237.12 L86.46 235.74 L86.60 234.35 L86.75 232.97 L86.89 231.59 L87.03 230.21 L87.17 228.83 L87.32 227.45 L87.46 226.07 L87.60 224.69 L87.75 223.31 L87.89 221.92 L88.04 220.54 L88.19 219.16 L88.34 217.78 L88.48 216.40 L88.63 215.02 L88.78 213.64 L88.93 212.26 L89.08 210.88 L89.24 209.50 L89.39 208.12 L89.54 206.74 L89.69 205.36 L89.85 203.98 L90.00 202.60 L90.16 201.22 L90.32 199.84 L90.47 198.46 L90.63 197.08 L90.79 195.70 L90.95 194.32 L91.11 192.94 L91.27 191.56 L91.44 190.18 L91.60 188.80 L91.76 187.42 L91.93 186.04 L92.09 184.67 L92.26 183.29 L92.43 181.91 L92.60 180.53 L92.76 179.16 L92.93 177.78 L93.11 176.40 L93.28 175.02 L93.45 173.65 L93.62 172.27 L93.80 170.89 L93.97 169.52 L94.15 168.14 L94.33 166.77 L94.51 165.39 L94.69 164.01 L94.87 162.64 L95.05 161.26 L95.23 159.89 L95.42 158.52 L95.60 157.14 L95.79 155.77 L95.98 154.39 L96.16 153.02 L96.35 151.65 L96.54 150.28 L96.74 148.90 L96.93 147.53 L97.12 146.16 L97.32 144.79 L97.51 143.42 L97.71 142.04 L97.91 140.67 L98.11 139.30 L98.31 137.93 L98.51 136.56 L98.71 135.19 L98.92 133.83 L99.12 132.46 L99.33 131.09 L99.54 129.72 L99.75 128.35 L99.96 126.99 L100.17 125.62 L100.39 124.25 L100.60 122.89 L100.82 121.52 L101.04 120.15 L101.26 118.79 L101.48 117.43 L101.71 116.06 L101.94 114.70 L102.18 113.34 L102.42 111.98 L102.66 110.62 L102.91 109.26 L103.16 107.90 L103.43 106.54 L103.69 105.18 L103.96 103.83 L104.24 102.48 L104.53 101.12 L104.83 99.77 L105.13 98.42 L105.44 97.07 L105.76 95.72 L106.09 94.38 L106.43 93.03 L106.77 91.69 L107.13 90.35 L107.50 89.01 L107.88 87.67 L108.27 86.34 L108.67 85.00 L109.08 83.67 L109.50 82.34 L109.94 81.01 L110.39 79.69 L110.86 78.36 L111.33 77.04 L111.82 75.72 L112.33 74.41 L112.85 73.09 L113.38 71.78 L113.93 70.47 L114.50 69.16 L115.08 67.86 L115.68 66.55 L116.29 65.26 L116.93 63.96 L117.59 62.69 L118.28 61.44 L119.00 60.23 L119.76 59.06 L120.56 57.95 L121.41 56.91 L122.32 55.94 L123.28 55.05 L124.31 54.26 L125.41 53.58 L126.57 53.00 L127.79 52.55 L129.06 52.21 L130.36 52.01 L131.68 51.93 L133.02 51.98 L134.36 52.17 L135.71 52.47 L137.04 52.87 L138.36 53.38 L139.66 53.98 L140.93 54.65 L142.16 55.40 L143.36 56.22 L144.51 57.08 L145.61 58.00 L146.65 58.95 L147.65 59.94 L148.59 60.96 L149.49 62.02 L150.35 63.11 L151.17 64.22 L151.96 65.36 L152.71 66.53 L153.44 67.71 L154.13 68.92 L154.81 70.14 L155.46 71.37 L156.10 72.61 L156.73 73.87 L157.34 75.13 L157.95 76.39 L158.55 77.66 L159.15 78.92 L159.76 80.18 L160.36 81.44 L160.97 82.70 L161.58 83.95 L162.20 85.20 L162.82 86.45 L163.44 87.70 L164.06 88.94 L164.69 90.17 L165.32 91.41 L165.95 92.64 L166.59 93.87 L167.23 95.10 L167.87 96.32 L168.52 97.54 L169.17 98.76 L169.82 99.98 L170.48 101.19 L171.14 102.40 L171.81 103.61 L172.48 104.82 L173.15 106.02 L173.83 107.22 L174.51 108.42 L175.19 109.62 L175.88 110.81 L176.58 112.00 L177.28 113.19 L177.98 114.38 L178.69 115.57 L179.40 116.75 L180.12 117.94 L180.84 119.12 L181.56 120.30 L182.30 121.47 L183.03 122.65 L183.77 123.82 L184.52 124.99 L185.27 126.16 L186.02 127.33 L186.78 128.49 L187.54 129.65 L188.31 130.81 L189.08 131.97 L189.86 133.12 L190.64 134.28 L191.43 135.42 L192.21 136.57 L193.01 137.71 L193.80 138.85 L194.61 139.99 L195.41 141.12 L196.22 142.25 L197.03 143.37 L197.85 144.50 L198.67 145.61 L199.49 146.73 L200.32 147.84 L201.15 148.95 L201.99 150.05 L202.82 151.15 L203.67 152.24 L204.51 153.33 L205.36 154.42 L206.21 155.50 L207.07 156.58 L207.92 157.65 L208.78 158.72 L209.65 159.78 L210.52 160.84 L211.38 161.89 L212.25 162.94 L213.12 164.00 L213.99 165.05 L214.85 166.11 L215.71 167.17 L216.57 168.24 L217.42 169.32 L218.27 170.41 L219.10 171.50 L219.93 172.61 L220.76 173.72 L221.59 174.83 L222.42 175.94 L223.25 177.06 L224.09 178.16 L224.94 179.27 L225.79 180.36 L226.66 181.44 L227.54 182.50 L228.44 183.55 L229.36 184.58 L230.30 185.59 L231.26 186.58 L232.24 187.54 L233.24 188.49 L234.26 189.42 L235.29 190.33 L236.34 191.22 L237.40 192.11 L238.48 192.97 L239.56 193.83 L240.66 194.68 L241.77 195.51 L242.88 196.34 L244.00 197.16 L245.13 197.98 L246.26 198.79 L247.40 199.60 L248.53 200.41 L249.67 201.21 L250.81 202.02 L251.94 202.83 L253.07 203.65 L254.20 204.47 L255.32 205.29 L256.44 206.12 L257.55 206.96 L258.66 207.80 L259.76 208.65 L260.86 209.50 L261.96 210.35 L263.05 211.19 L264.15 212.04 L265.25 212.88 L266.35 213.71 L267.46 214.54 L268.57 215.36 L269.68 216.18 L270.81 216.98 L271.94 217.76 L273.07 218.54 L274.22 219.30 L275.38 220.04 L276.55 220.77 L277.73 221.47 L278.92 222.16 L280.13 222.82 L281.36 223.46 L282.59 224.08 L283.84 224.69 L285.10 225.27 L286.37 225.85 L287.64 226.42 L288.91 226.99 L290.19 227.55 L291.47 228.11 L292.75 228.67 L294.03 229.24 L295.30 229.82 L296.56 230.41 L297.82 231.01 L299.07 231.63 L300.30 232.27 L301.53 232.93 L302.74 233.60 L303.94 234.30 L305.14 235.00 L306.33 235.71 L307.52 236.43 L308.70 237.16 L309.89 237.88 L311.07 238.60 L312.26 239.31 L313.45 240.01 L314.65 240.71 L315.86 241.38 L317.07 242.04 L318.30 242.67 L319.54 243.29 L320.79 243.87 L322.05 244.43 L323.32 244.95 L324.60 245.44 L325.90 245.90 L327.22 246.32 L328.54 246.70 L329.88 247.06 L331.22 247.40 L332.56 247.73 L333.91 248.04 L335.26 248.34 L336.61 248.64 L337.96 248.95 L339.31 249.25 L340.66 249.56 L342.01 249.88 L343.35 250.21 L344.68 250.55 L346.02 250.91 L347.34 251.29 L348.67 251.68 L349.99 252.09 L351.31 252.51 L352.62 252.94 L353.93 253.38 L355.24 253.83 L356.54 254.30 L357.85 254.77 L359.15 255.24 L360.45 255.73 L361.75 256.22 L363.05 256.71 L364.34 257.20 L365.64 257.70 L366.94 258.20 L368.23 258.69 L369.53 259.19 L370.83 259.69 L372.13 260.18 L373.43 260.66 L374.73 261.14 L376.04 261.62 L377.35 262.09 L378.66 262.55 L379.97 263.00 L381.29 263.44 L382.60 263.87 L383.93 264.29 L385.25 264.70 L386.58 265.10 L387.91 265.49 L389.24 265.88 L390.57 266.26 L391.91 266.63 L393.25 266.99 L394.59 267.35 L395.93 267.70 L397.27 268.05 L398.61 268.39 L399.96 268.73 L401.31 269.06 L402.65 269.39 L404.00 269.72 L405.35 270.04 L406.70 270.36 L408.05 270.68 L409.40 271.00 L410.75 271.31 L412.10 271.63 L413.45 271.94 L414.80 272.25 L416.15 272.57 L417.50 272.88 L418.85 273.19 L420.20 273.51 L421.55 273.83 L422.90 274.14 L424.25 274.46 L425.60 274.79 L426.95 275.11 L428.29 275.44 L429.64 275.77 L430.98 276.11 L432.33 276.45 L433.67 276.80 L435.01 277.15 L436.35 277.50 L437.69 277.86 L439.03 278.23 L440.36 278.61 L441.70 278.99 L443.03 279.37 L444.36 279.77 L445.69 280.17 L447.01 280.58 L448.34 281.00 L449.66 281.42 L450.99 281.84 L452.31 282.26 L453.64 282.67 L454.96 283.09 L456.29 283.50 L457.62 283.90 L458.95 284.29 L460.29 284.67 L461.62 285.04 L462.96 285.39 L464.31 285.73 L465.66 286.05 L467.01 286.35" stroke="#ffa500"/>
<path d="M81.79 302.80 L82.56 294.78 L83.33 286.95 L84.11 279.30 L84.88 271.84 L85.65 264.55 L86.43 257.44 L87.20 250.51 L87.97 243.74 L88.75 237.14 L89.52 229.12 L90.29 221.36 L91.06 213.84 L91.84 206.56 L92.61 199.51 L93.38 192.69 L94.16 186.22 L94.93 180.57 L95.70 175.08 L96.48 169.76 L97.25 164.60 L98.02 159.60 L98.79 154.75 L99.57 150.05 L100.34 145.49 L101.11 141.08 L101.89 136.48 L102.66 131.72 L103.43 127.14 L104.21 122.73 L104.98 118.50 L105.75 114.44 L106.52 110.54 L107.30 106.81 L108.07 103.23 L108.84 99.80 L109.62 96.35 L110.39 92.89 L111.16 89.60 L111.94 86.48 L112.71 83.53 L113.48 80.74 L114.25 78.10 L115.03 75.62 L115.80 73.28 L116.57 71.17 L117.35 69.27 L118.12 67.49 L118.89 65.81 L119.67 64.25 L120.44 62.79 L121.21 61.43 L121.98 60.17 L122.76 59.01 L123.53 57.95 L124.30 56.98 L125.08 56.09 L125.85 55.30 L126.62 54.59 L127.40 53.96 L128.17 53.41 L128.94 52.93 L129.71 52.54 L130.49 52.21 L131.26 51.96 L132.03 51.77 L132.81 51.66 L133.58 51.60 L134.35 51.61 L135.13 51.68 L135.90 51.81 L136.67 51.99 L137.44 52.22 L138.22 52.50 L138.99 52.84 L139.76 53.22 L140.54 53.65 L141.31 54.13 L142.08 54.65 L142.86 55.21 L143.63 55.82 L144.40 56.46 L145.17 57.15 L145.95 57.87 L146.72 58.62 L147.49 59.41 L148.27 60.24 L149.04 61.10 L149.81 61.98 L150.59 62.90 L151.36 63.85 L152.13 64.83 L152.90 65.83 L153.68 66.86 L154.45 67.91 L155.22 68.99 L156.00 70.09 L156.77 71.21 L157.54 72.36 L158.32 73.55 L159.09 74.78 L159.86 76.03 L160.63 77.30 L161.41 78.58 L162.18 79.89 L162.95 81.21 L163.73 82.54 L164.50 83.89 L165.27 85.26 L166.05 86.64 L166.82 88.03 L167.59 89.43 L168.36 90.84 L169.14 92.27 L169.91 93.70 L170.68 95.14 L171.46 96.60 L172.23 98.06 L173.00 99.52 L173.78 101.00 L174.55 102.48 L175.32 103.96 L176.09 105.46 L176.87 106.95 L177.64 108.45 L178.41 109.96 L179.19 111.46 L179.96 112.97 L180.73 114.48 L181.51 116.00 L182.28 117.51 L183.05 119.03 L183.82 120.55 L184.60 122.06 L185.37 123.58 L186.14 125.10 L186.92 126.61 L187.69 128.13 L188.46 129.64 L189.24 131.11 L190.01 132.57 L190.78 134.02 L191.55 135.47 L192.33 136.92 L193.10 138.36 L193.87 139.81 L194.65 141.24 L195.42 142.68 L196.19 144.11 L196.97 145.53 L197.74 146.96 L198.51 148.37 L199.28 149.79 L200.06 151.20 L200.83 152.60 L201.60 154.00 L202.38 155.39 L203.15 156.78 L203.92 158.16 L204.70 159.54 L205.47 160.91 L206.24 162.27 L207.01 163.63 L207.79 164.98 L208.56 166.33 L209.33 167.67 L210.11 169.00 L210.88 170.32 L211.65 171.64 L212.43 172.96 L213.20 174.26 L213.97 175.56 L214.74 176.85 L215.52 178.13 L216.29 179.41 L217.06 180.68 L217.84 181.94 L218.61 183.20 L219.38 184.44 L220.16 185.68 L220.93 186.92 L221.70 188.14 L222.47 189.36 L223.25 190.57 L224.02 191.77 L224.79 192.96 L225.57 194.15 L226.34 195.32 L227.11 196.49 L227.89 197.65 L228.66 198.81 L229.43 199.95 L230.20 201.09 L230.98 202.22 L231.75 203.34 L232.52 204.46 L233.30 205.56 L234.07 206.66 L234.84 207.75 L235.62 208.83 L236.39 209.90 L237.16 210.97 L237.93 212.02 L238.71 213.07 L239.48 214.11 L240.25 215.15 L241.03 216.17 L241.80 217.19 L242.57 218.20 L243.35 219.18 L244.12 220.14 L244.89 221.10 L245.66 222.05 L246.44 222.99 L247.21 223.93 L247.98 224.85 L248.76 225.77 L249.53 226.68 L250.30 227.59 L251.08 228.48 L251.85 229.37 L252.62 230.26 L253.39 231.13 L254.17 232.00 L254.94 232.86 L255.71 233.71 L256.49 234.56 L257.26 235.40 L258.03 236.23 L258.81 237.06 L259.58 237.88 L260.35 238.69 L261.12 239.49 L261.90 240.29 L262.67 241.08 L263.44 241.86 L264.22 242.64 L264.99 243.41 L265.76 244.17 L266.54 244.92 L267.31 245.67 L268.08 246.42 L268.85 247.15 L269.63 247.88 L270.40 248.60 L271.17 249.32 L271.95 250.03 L272.72 250.73 L273.49 251.43 L274.27 252.13 L275.04 252.84 L275.81 253.54 L276.58 254.23 L277.36 254.91 L278.13 255.59 L278.90 256.26 L279.68 256.93 L280.45 257.58 L281.22 258.24 L282.00 258.88 L282.77 259.52 L283.54 260.15 L284.31 260.78 L285.09 261.40 L285.86 262.02 L286.63 262.63 L287.41 263.23 L288.18 263.83 L288.95 264.42 L289.73 265.00 L290.50 265.58 L291.27 266.15 L292.04 266.72 L292.82 267.28 L293.59 267.84 L294.36 268.39 L295.14 268.93 L295.91 269.47 L296.68 270.01 L297.46 270.54 L298.23 271.06 L299.00 271.58 L299.77 272.09 L300.55 272.60 L301.32 273.10 L302.09 273.59 L302.87 274.09 L303.64 274.57 L304.41 275.05 L305.19 275.53 L305.96 276.00 L306.73 276.47 L307.50 276.93 L308.28 277.39 L309.05 277.84 L309.82 278.28 L310.60 278.73 L311.37 279.16 L312.14 279.60 L312.92 280.03 L313.69 280.45 L314.46 280.87 L315.23 281.28 L316.01 281.69 L316.78 282.10 L317.55 282.50 L318.33 282.90 L319.10 283.29 L319.87 283.68 L320.65 284.07 L321.42 284.45 L322.19 284.82 L322.96 285.20 L323.74 285.56 L324.51 285.93 L325.28 286.29 L326.06 286.64 L326.83 287.00 L327.60 287.35 L328.38 287.69 L329.15 288.03 L329.92 288.37 L330.69 288.70 L331.47 289.03 L332.24 289.36 L333.01 289.68 L333.79 290.00 L334.56 290.32 L335.33 290.63 L336.11 290.94 L336.88 291.24 L337.65 291.54 L338.42 291.84 L339.20 292.14 L339.97 292.43 L340.74 292.72 L341.52 293.00 L342.29 293.28 L343.06 293.56 L343.84 293.84 L344.61 294.11 L345.38 294.38 L346.15 294.65 L346.93 294.91 L347.70 295.17 L348.47 295.43 L349.25 295.68 L350.02 295.94 L350.79 296.19 L351.57 296.43 L352.34 296.67 L353.11 296.91 L353.88 297.15 L354.66 297.39 L355.43 297.62 L356.20 297.85 L356.98 298.08 L357.75 298.30 L358.52 298.52 L359.30 298.74 L360.07 298.96 L360.84 299.17 L361.61 299.39 L362.39 299.59 L363.16 299.80 L363.93 300.01 L364.71 300.21 L365.48 300.41 L366.25 300.61 L367.03 300.80 L367.80 300.99 L368.57 301.19 L369.34 301.37 L370.12 301.56 L370.89 301.74 L371.66 301.93 L372.44 302.11 L373.21 302.28 L373.98 302.46 L374.76 302.63 L375.53 302.80 L376.30 302.97 L377.07 303.14 L377.85 303.31 L378.62 303.47 L379.39 303.63 L380.17 303.79 L380.94 303.95 L381.71 304.11 L382.49 304.26 L383.26 304.41 L384.03 304.56 L384.80 304.71 L385.58 304.86 L386.35 305.01 L387.12 305.15 L387.90 305.29 L388.67 305.43 L389.44 305.57 L390.22 305.71 L390.99 305.84 L391.76 305.98 L392.53 306.11 L393.31 306.24 L394.08 306.37 L394.85 306.49 L395.63 306.62 L396.40 306.74 L397.17 306.87 L397.95 306.99 L398.72 307.11 L399.49 307.23 L400.26 307.34 L401.04 307.46 L401.81 307.57 L402.58 307.69 L403.36 307.80 L404.13 307.91 L404.90 308.02 L405.68 308.13 L406.45 308.23 L407.22 308.34 L407.99 308.44 L408.77 308.54 L409.54 308.64 L410.31 308.74 L411.09 308.84 L411.86 308.94 L412.63 309.04 L413.41 309.13 L414.18 309.23 L414.95 309.32 L415.72 309.41 L416.50 309.50 L417.27 309.59 L418.04 309.68 L418.82 309.77 L419.59 309.85 L420.36 309.94 L421.14 310.02 L421.91 310.10 L422.68 310.19 L423.45 310.27 L424.23 310.35 L425.00 310.43 L425.77 310.51 L426.55 310.58 L427.32 310.66 L428.09 310.73 L428.87 310.81 L429.64 310.88 L430.41 310.96 L431.18 311.03 L431.96 311.10 L432.73 311.17 L433.50 311.24 L434.28 311.30 L435.05 311.37 L435.82 311.44 L436.60 311.50 L437.37 311.57 L438.14 311.63 L438.91 311.70 L439.69 311.76 L440.46 311.82 L441.23 311.88 L442.01 311.94 L442.78 312.00 L443.55 312.06 L444.33 312.12 L445.10 312.18 L445.87 312.23 L446.64 312.29 L447.42 312.34 L448.19 312.40 L448.96 312.45 L449.74 312.51 L450.51 312.56 L451.28 312.61 L452.06 312.66 L452.83 312.71 L453.60 312.76 L454.37 312.81 L455.15 312.86 L455.92 312.91 L456.69 312.95 L457.47 313.00 L458.24 313.05 L459.01 313.09 L459.79 313.14 L460.56 313.18 L461.33 313.23 L462.10 313.27 L462.88 313.31 L463.65 313.36 L464.42 313.40 L465.20 313.44 L465.97 313.48 L466.74 313.52" stroke="#000" stroke-width="1.55" stroke-dasharray="5.0 4.7" stroke-dashoffset="6.25"/>
</g>
<text x="80.50" y="337.2" font-size="15" text-anchor="middle">0</text>
<text x="208.63" y="337.2" font-size="15" text-anchor="middle">5</text>
<text x="330.0" y="337.2" font-size="15"><tspan style="font-family:'Liberation Serif',serif" font-size="15.3">1</tspan><tspan dx="0.6">0</tspan></text>
<text x="459.0" y="337.2" font-size="15"><tspan style="font-family:'Liberation Serif',serif" font-size="15.3">1</tspan><tspan dx="0.6">5</tspan></text>
<text x="76" y="317.50" font-size="15" text-anchor="end">0.0</text>
<text x="76" y="269.20" font-size="15" text-anchor="end">0.2</text>
<text x="76" y="216.20" font-size="15" text-anchor="end">0.4</text>
<text x="76" y="163.20" font-size="15" text-anchor="end">0.6</text>
<text x="76" y="110.20" font-size="15" text-anchor="end">0.8</text>
<text x="55.6" y="57.20" font-size="15"><tspan style="font-family:'Liberation Serif',serif" font-size="15.3">1</tspan><tspan dx="0.3">.0</tspan></text>
<path d="M268.4 51.60 H316.4" stroke="#a020f0" stroke-width="1.3"/>
<text transform="translate(322.50 55.50) scale(0.9350 1)" font-size="15.60" font-weight="normal" fill="#a020f0" style="font-family:'Liberation Serif',serif"  stroke="#a020f0" stroke-width="0.40">DR8,</text>
<text transform="translate(360.60 55.50) scale(0.9500 1)" font-size="15.60" font-weight="normal" fill="#a020f0" style="font-family:'Liberation Serif',serif"  stroke="#a020f0" stroke-width="0.40">z</text>
<path d="M376.60 48.68 H372.88 A3.02 3.02 0 0 0 372.88 54.73 H376.60 M369.23 51.70 H376.60" fill="none" stroke="#a020f0" stroke-width="1.25"/>
<text transform="translate(377.70 55.50) scale(1.0410 1)" font-size="16.60" font-weight="normal" fill="#a020f0" style="font-family:'Liberation Serif',serif"  stroke="#a020f0" stroke-width="0.35">[0.08,0.12]</text>
<path d="M268.4 72.85 H316.4" stroke="#006400" stroke-width="1.3"/>
<text transform="translate(322.50 76.75) scale(0.9350 1)" font-size="15.60" font-weight="normal" fill="#006400" style="font-family:'Liberation Serif',serif"  stroke="#006400" stroke-width="0.40">DR8,</text>
<text transform="translate(360.60 76.75) scale(0.9500 1)" font-size="15.60" font-weight="normal" fill="#006400" style="font-family:'Liberation Serif',serif"  stroke="#006400" stroke-width="0.40">z</text>
<path d="M376.60 69.92 H372.88 A3.02 3.02 0 0 0 372.88 75.98 H376.60 M369.23 72.95 H376.60" fill="none" stroke="#006400" stroke-width="1.25"/>
<text transform="translate(377.70 76.75) scale(1.0410 1)" font-size="16.60" font-weight="normal" fill="#006400" style="font-family:'Liberation Serif',serif"  stroke="#006400" stroke-width="0.35">[0.19,0.21]</text>
<path d="M268.4 94.10 H316.4" stroke="#0000ff" stroke-width="1.3"/>
<text transform="translate(322.50 98.00) scale(0.9350 1)" font-size="15.60" font-weight="normal" fill="#0000ff" style="font-family:'Liberation Serif',serif"  stroke="#0000ff" stroke-width="0.40">DR8,</text>
<text transform="translate(360.60 98.00) scale(0.9500 1)" font-size="15.60" font-weight="normal" fill="#0000ff" style="font-family:'Liberation Serif',serif"  stroke="#0000ff" stroke-width="0.40">z</text>
<path d="M376.60 91.17 H372.88 A3.02 3.02 0 0 0 372.88 97.23 H376.60 M369.23 94.20 H376.60" fill="none" stroke="#0000ff" stroke-width="1.25"/>
<text transform="translate(377.70 98.00) scale(1.0410 1)" font-size="16.60" font-weight="normal" fill="#0000ff" style="font-family:'Liberation Serif',serif"  stroke="#0000ff" stroke-width="0.35">[0.29,0.31]</text>
<path d="M268.4 115.35 H316.4" stroke="#ff0000" stroke-width="1.3"/>
<text transform="translate(322.60 119.25) scale(1.0350 1)" font-size="15.60" font-weight="normal" fill="#ff0000" style="font-family:'Liberation Serif',serif"  stroke="#ff0000" stroke-width="0.40">S82,</text>
<text transform="translate(359.40 119.25) scale(0.9500 1)" font-size="15.60" font-weight="normal" fill="#ff0000" style="font-family:'Liberation Serif',serif"  stroke="#ff0000" stroke-width="0.40">z</text>
<path d="M376.36 112.42 H372.39 A3.02 3.02 0 0 0 372.39 118.48 H376.36 M368.75 115.45 H376.36" fill="none" stroke="#ff0000" stroke-width="1.25"/>
<text transform="translate(377.70 119.25) scale(1.0410 1)" font-size="16.60" font-weight="normal" fill="#ff0000" style="font-family:'Liberation Serif',serif"  stroke="#ff0000" stroke-width="0.35">[0.39,0.41]</text>
<path d="M268.4 136.60 H316.4" stroke="#ffa500" stroke-width="1.3"/>
<text transform="translate(322.60 140.50) scale(1.0350 1)" font-size="15.60" font-weight="normal" fill="#ffa500" style="font-family:'Liberation Serif',serif"  stroke="#ffa500" stroke-width="0.40">S82,</text>
<text transform="translate(359.40 140.50) scale(0.9500 1)" font-size="15.60" font-weight="normal" fill="#ffa500" style="font-family:'Liberation Serif',serif"  stroke="#ffa500" stroke-width="0.40">z</text>
<path d="M376.36 133.67 H372.39 A3.02 3.02 0 0 0 372.39 139.72 H376.36 M368.75 136.70 H376.36" fill="none" stroke="#ffa500" stroke-width="1.25"/>
<text transform="translate(377.70 140.50) scale(1.0410 1)" font-size="16.60" font-weight="normal" fill="#ffa500" style="font-family:'Liberation Serif',serif"  stroke="#ffa500" stroke-width="0.35">[0.49,0.51]</text>
<path d="M268.4 157.85 H317.2" stroke="#000" stroke-width="1.3" stroke-dasharray="5 2.85"/>
<text transform="translate(342.30 161.65) scale(1.1950 1)" font-size="14.70" font-weight="normal" fill="#000" style="font-family:'Liberation Serif',serif"  stroke="#000" stroke-width="0.50">Distribution</text>
<path d="M329.82 154.03 L322.30 164.27 M322.75 155.44 C323.20 154.25 324.41 154.03 325.01 155.44 L327.72 163.07 C328.17 164.38 328.92 164.60 329.60 163.84" stroke="#000" stroke-width="1.15" fill="none" stroke-linecap="round" stroke-linejoin="round"/>
<text transform="translate(330.20 154.40) scale(1.0500 1)" font-size="8.80" font-weight="bold" fill="#000" style="font-family:'Liberation Serif',serif" stroke="#000" stroke-width="0.45">2</text>
<path d="M272.51 346.12 L265.20 356.08 M265.64 347.50 C266.08 346.33 267.25 346.12 267.83 347.50 L270.47 354.92 C270.90 356.19 271.64 356.40 272.29 355.66" stroke="#000" stroke-width="1.15" fill="none" stroke-linecap="round" stroke-linejoin="round"/>
<text transform="translate(273.20 346.70) scale(1.0000 1)" font-size="9.60" font-weight="bold" fill="#000" style="font-family:'Liberation Serif',serif" stroke="#000" stroke-width="0.45">2</text>
<text transform="translate(273.00 356.40) scale(1.0000 1)" font-size="10.80" font-weight="bold" fill="#000" style="font-family:'Liberation Serif',serif" stroke="#000" stroke-width="0.4">s</text>
<text transform="translate(44.0 224.5) rotate(-90) scale(0.905 1)" font-size="14.9" font-weight="normal" stroke="#000" stroke-width="0.3" style="font-family:'Liberation Serif',serif">PDF</text>
<path d="M45.6 197.3 L34.4 187.7" stroke="#000" stroke-width="1.25" fill="none"/>
<text transform="translate(44.0 185.5) rotate(-90) scale(1.02 1)" font-size="16" font-weight="normal" stroke="#000" stroke-width="0.3" style="font-family:'Liberation Serif',serif">max</text>
<text transform="translate(44.0 156.6) rotate(-90) scale(0.99 1)" font-size="14.9" font-weight="normal" stroke="#000" stroke-width="0.3" style="font-family:'Liberation Serif',serif">(PDF)</text>
</svg></body></html>
